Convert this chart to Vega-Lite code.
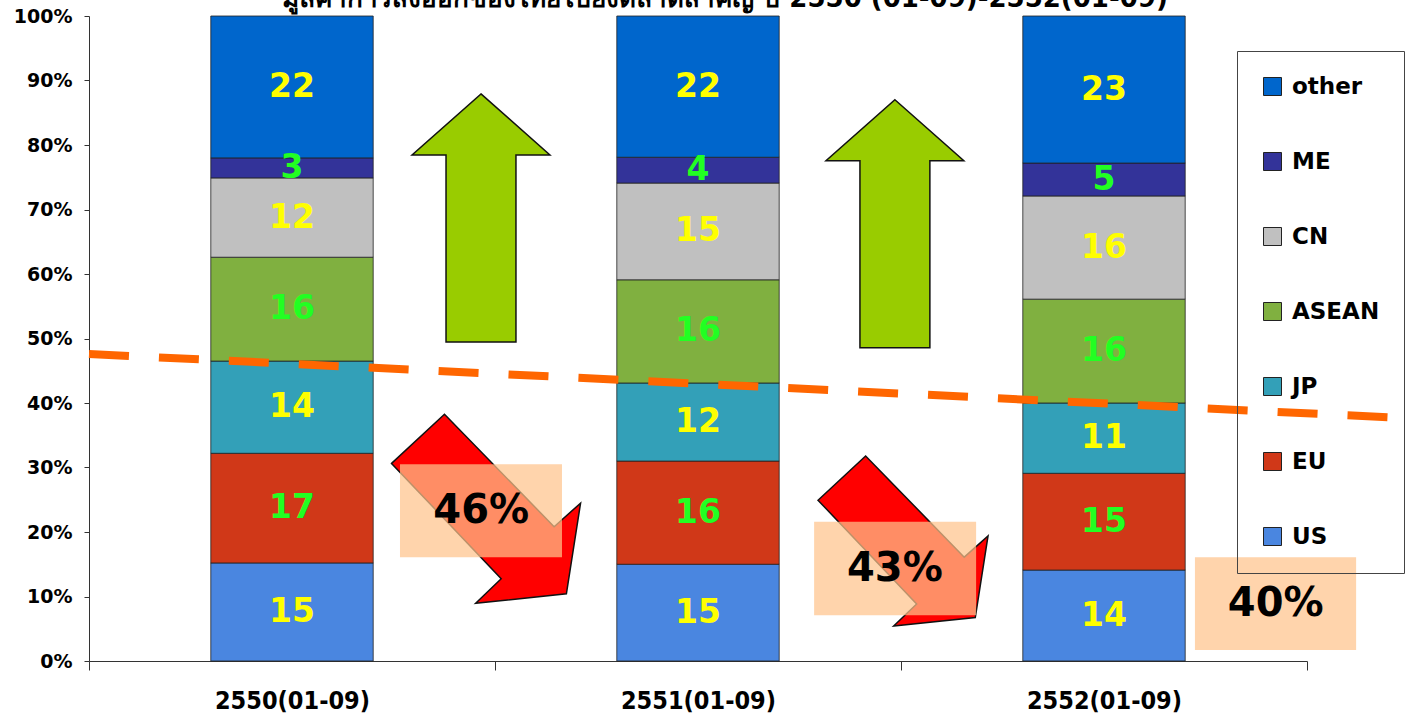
{
  "$schema": "https://vega.github.io/schema/vega-lite/v6.json",
  "width": 1218,
  "height": 645,
  "autosize": {"type": "none"},
  "padding": {"left": 89, "top": 16, "right": 106, "bottom": 54},
  "background": "white",
  "config": {"view": {"stroke": null}, "font": "DejaVu Sans"},
  "title": {
    "text": "มูลค่าการส่งออกของไทยไปยังตลาดสำคัญ ปี 2550 (01-09)-2552(01-09)",
    "font": "DejaVu Sans",
    "fontSize": 26,
    "fontWeight": "bold",
    "color": "black",
    "anchor": "middle",
    "dx": 27,
    "offset": -26,
    "baseline": "alphabetic"
  },
  "datasets": {
    "shares": [
      {"period": "2550(01-09)", "series": "US", "rank": 1, "share": 15.2},
      {"period": "2550(01-09)", "series": "EU", "rank": 2, "share": 17.0},
      {"period": "2550(01-09)", "series": "JP", "rank": 3, "share": 14.3},
      {"period": "2550(01-09)", "series": "ASEAN", "rank": 4, "share": 16.1},
      {"period": "2550(01-09)", "series": "CN", "rank": 5, "share": 12.3},
      {"period": "2550(01-09)", "series": "ME", "rank": 6, "share": 3.1},
      {"period": "2550(01-09)", "series": "other", "rank": 7, "share": 22.0},
      {"period": "2551(01-09)", "series": "US", "rank": 1, "share": 15.0},
      {"period": "2551(01-09)", "series": "EU", "rank": 2, "share": 16.0},
      {"period": "2551(01-09)", "series": "JP", "rank": 3, "share": 12.1},
      {"period": "2551(01-09)", "series": "ASEAN", "rank": 4, "share": 16.0},
      {"period": "2551(01-09)", "series": "CN", "rank": 5, "share": 15.0},
      {"period": "2551(01-09)", "series": "ME", "rank": 6, "share": 4.0},
      {"period": "2551(01-09)", "series": "other", "rank": 7, "share": 21.9},
      {"period": "2552(01-09)", "series": "US", "rank": 1, "share": 14.1},
      {"period": "2552(01-09)", "series": "EU", "rank": 2, "share": 15.0},
      {"period": "2552(01-09)", "series": "JP", "rank": 3, "share": 10.9},
      {"period": "2552(01-09)", "series": "ASEAN", "rank": 4, "share": 16.1},
      {"period": "2552(01-09)", "series": "CN", "rank": 5, "share": 16.0},
      {"period": "2552(01-09)", "series": "ME", "rank": 6, "share": 5.1},
      {"period": "2552(01-09)", "series": "other", "rank": 7, "share": 22.8}
    ],
    "trend": [
      {"pos": 0, "level": 47.6},
      {"pos": 3.261, "level": 37.6}
    ],
    "greenArrows": [
      {"pos": 0.9655, "level": 68.7},
      {"pos": 1.985, "level": 67.8}
    ],
    "redArrowA": [{"pos": 0.978, "level": 23.6}],
    "redArrowB": [{"pos": 2.005, "level": 18.6}],
    "boxes": [
      {"left": 0.766, "right": 1.165, "bottom": 16.1, "top": 30.5, "mid": 0.966, "center": 23.3, "label": "46%"},
      {"left": 1.786, "right": 2.185, "bottom": 7.1, "top": 21.6, "mid": 1.985, "center": 14.3, "label": "43%"},
      {"left": 2.724, "right": 3.121, "bottom": 1.7, "top": 16.1, "mid": 2.923, "center": 8.8, "label": "40%"}
    ]
  },
  "resolve": {"scale": {"x": "independent"}, "axis": {"x": "independent", "y": "independent"}},
  "layer": [
    {
      "data": {"name": "shares"},
      "mark": {"type": "bar", "width": {"band": 0.4}, "stroke": "#222222", "strokeWidth": 0.8},
      "encoding": {
        "x": {
          "field": "period", "type": "nominal",
          "scale": {"paddingInner": 0, "paddingOuter": 0},
          "axis": {
            "title": null, "labelAngle": 0, "tickBand": "extent", "tickSize": 9,
            "tickColor": "#333333", "domainColor": "#333333",
            "labelFont": "DejaVu Sans Condensed, DejaVu Sans", "labelFontWeight": "bold",
            "labelFontSize": 25, "labelColor": "black", "labelPadding": 18
          }
        },
        "y": {
          "field": "share", "type": "quantitative", "stack": "zero",
          "scale": {"domain": [0, 100], "nice": false},
          "axis": {
            "title": null, "grid": false, "values": [0, 10, 20, 30, 40, 50, 60, 70, 80, 90, 100],
            "labelExpr": "datum.value + '%'", "tickSize": 5, "tickColor": "#333333", "domainColor": "#333333",
            "labelFont": "DejaVu Sans", "labelFontWeight": "bold", "labelFontSize": 19,
            "labelColor": "black", "labelPadding": 12
          }
        },
        "color": {
          "field": "series", "type": "nominal",
          "scale": {
            "domain": ["other", "ME", "CN", "ASEAN", "JP", "EU", "US"],
            "range": ["#0066CC", "#333399", "#C0C0C0", "#80B040", "#33A0B8", "#D03818", "#4A86E0"]
          },
          "legend": {
            "orient": "none", "legendX": 1148, "legendY": 35, "title": null,
            "symbolType": "square", "symbolSize": 324, "symbolStrokeColor": "#222222", "symbolStrokeWidth": 1,
            "labelFont": "DejaVu Sans", "labelFontWeight": "bold", "labelFontSize": 23, "labelColor": "black",
            "labelOffset": 8, "rowPadding": 51, "padding": 24, "strokeColor": "#444444", "fillColor": "transparent",
            "labelLimit": 300
          }
        },
        "order": {"field": "rank", "type": "quantitative"}
      }
    },
    {
      "data": {"name": "shares"},
      "mark": {"type": "text", "font": "DejaVu Sans", "fontWeight": "bold", "fontSize": 33, "baseline": "middle", "align": "center"},
      "encoding": {
        "x": {"field": "period", "type": "nominal", "scale": {"paddingInner": 0, "paddingOuter": 0}, "axis": null},
        "y": {"field": "share", "type": "quantitative", "stack": "zero", "bandPosition": 0.5, "scale": {"domain": [0, 100], "nice": false}, "axis": null},
        "order": {"field": "rank", "type": "quantitative"},
        "text": {"field": "share", "type": "quantitative", "format": ".0f"},
        "color": {
          "condition": {"test": "indexof(['EU','ASEAN','ME'], datum.series) >= 0", "value": "#22FF22"},
          "value": "#FFFF00"
        }
      }
    },
    {
      "data": {"name": "trend"},
      "mark": {"type": "line", "color": "#FF6600", "strokeWidth": 8, "strokeDash": [40, 30], "strokeCap": "butt"},
      "encoding": {
        "x": {"field": "pos", "type": "quantitative", "scale": {"domain": [0, 3], "nice": false, "zero": false}, "axis": null},
        "y": {"field": "level", "type": "quantitative", "scale": {"domain": [0, 100], "nice": false}, "axis": null}
      }
    },
    {
      "data": {"name": "greenArrows"},
      "mark": {
        "type": "point", "filled": true, "opacity": 1, "fill": "#99CC00", "fillOpacity": 1,
        "stroke": "#111111", "strokeWidth": 1.5, "strokeOpacity": 1, "size": 61504,
        "shape": "M0,-1L0.556,-0.508L0.282,-0.508L0.282,1L-0.282,1L-0.282,-0.508L-0.556,-0.508Z"
      },
      "encoding": {
        "x": {"field": "pos", "type": "quantitative", "scale": {"domain": [0, 3], "nice": false, "zero": false}, "axis": null},
        "y": {"field": "level", "type": "quantitative", "scale": {"domain": [0, 100], "nice": false}, "axis": null}
      }
    },
    {
      "data": {"name": "redArrowA"},
      "mark": {
        "type": "point", "filled": true, "opacity": 1, "fill": "#FF0000", "fillOpacity": 1,
        "stroke": "#111111", "strokeWidth": 1.5, "strokeOpacity": 1, "size": 35721,
        "shape": "M-1,-0.48L-0.44,-1L0.72,0.19L1,-0.06L0.85,0.9L-0.11,1L0.16,0.74Z"
      },
      "encoding": {
        "x": {"field": "pos", "type": "quantitative", "scale": {"domain": [0, 3], "nice": false, "zero": false}, "axis": null},
        "y": {"field": "level", "type": "quantitative", "scale": {"domain": [0, 100], "nice": false}, "axis": null}
      }
    },
    {
      "data": {"name": "redArrowB"},
      "mark": {
        "type": "point", "filled": true, "opacity": 1, "fill": "#FF0000", "fillOpacity": 1,
        "stroke": "#111111", "strokeWidth": 1.5, "strokeOpacity": 1, "size": 28900,
        "shape": "M-1,-0.48L-0.44,-1L0.72,0.19L1,-0.06L0.85,0.9L-0.11,1L0.16,0.74Z"
      },
      "encoding": {
        "x": {"field": "pos", "type": "quantitative", "scale": {"domain": [0, 3], "nice": false, "zero": false}, "axis": null},
        "y": {"field": "level", "type": "quantitative", "scale": {"domain": [0, 100], "nice": false}, "axis": null}
      }
    },
    {
      "data": {"name": "boxes"},
      "mark": {"type": "rect", "fill": "#FFC48C", "opacity": 0.72},
      "encoding": {
        "x": {"field": "left", "type": "quantitative", "scale": {"domain": [0, 3], "nice": false, "zero": false}, "axis": null},
        "x2": {"field": "right"},
        "y": {"field": "bottom", "type": "quantitative", "scale": {"domain": [0, 100], "nice": false}, "axis": null},
        "y2": {"field": "top"}
      }
    },
    {
      "data": {"name": "boxes"},
      "mark": {"type": "text", "font": "DejaVu Sans", "fontWeight": "bold", "fontSize": 40, "color": "black", "baseline": "middle", "align": "center"},
      "encoding": {
        "x": {"field": "mid", "type": "quantitative", "scale": {"domain": [0, 3], "nice": false, "zero": false}, "axis": null},
        "y": {"field": "center", "type": "quantitative", "scale": {"domain": [0, 100], "nice": false}, "axis": null},
        "text": {"field": "label", "type": "nominal"}
      }
    }
  ]
}
